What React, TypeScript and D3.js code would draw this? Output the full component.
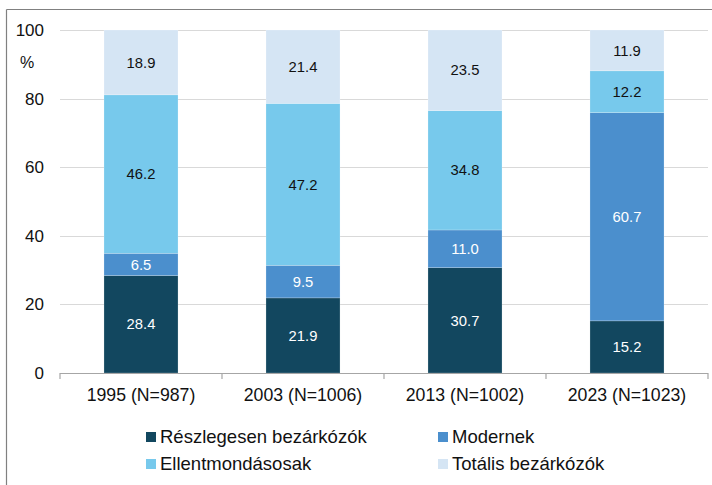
import React from "react";
import * as d3 from "d3";

const categories = ["1995 (N=987)", "2003 (N=1006)", "2013 (N=1002)", "2023 (N=1023)"];
const seriesNames = ["Részlegesen bezárkózók", "Modernek", "Ellentmondásosak", "Totális bezárkózók"];
const reszlegesen = [28.4, 21.9, 30.7, 15.2];
const modernek = [6.5, 9.5, 11.0, 60.7];
const ellentmondasosak = [46.2, 47.2, 34.8, 12.2];
const totalis = [18.9, 21.4, 23.5, 11.9];
const yTicks = [0, 20, 40, 60, 80, 100];

const seriesValues = [reszlegesen, modernek, ellentmondasosak, totalis];
const colors = ["#12475f", "#4b8fcd", "#77c9ec", "#d5e5f4"];
const labelColors = ["#ffffff", "#ffffff", "#111111", "#111111"];

const W = 712;
const H = 485;
const FONT = "'Liberation Sans', Arial, sans-serif";

export default function App() {
  const x = d3.scaleBand<string>().domain(categories).range([60, 708]).paddingInner(0.543).paddingOuter(0.2715);
  const y = d3.scaleLinear().domain([0, 100]).range([373, 30]);

  const table = categories.map((c, i) => {
    const row: any = { cat: c };
    seriesNames.forEach((s, j) => (row[s] = seriesValues[j][i]));
    return row;
  });
  const stacked = d3.stack<any>().keys(seriesNames)(table);

  const step = (708 - 60) / categories.length;
  const boundaries = d3.range(categories.length + 1).map((i) => 60 + i * step);

  const legendPos = [
    { x: 146, y: 437 },
    { x: 438, y: 437 },
    { x: 146, y: 464 },
    { x: 438, y: 464 },
  ];

  return (
    <svg width={W} height={H} style={{ position: "absolute", left: 0, top: 0 }} fontFamily={FONT}>
      <rect x={0} y={0} width={W} height={H} fill="#ffffff" />
      <line x1={6.5} y1={9.5} x2={W} y2={9.5} stroke="#808080" strokeWidth={1.2} />
      <line x1={6.5} y1={9.5} x2={6.5} y2={H} stroke="#808080" strokeWidth={1.2} />
      {yTicks.filter((t) => t > 0).map((t) => (
        <line key={t} x1={60} x2={708} y1={Math.round(y(t)) + 0.5} y2={Math.round(y(t)) + 0.5} stroke="#d9d9d9" strokeWidth={1} />
      ))}
      {yTicks.map((t) => (
        <text key={t} x={44} y={y(t)} dy="0.35em" textAnchor="end" fontSize={17} fill="#111">
          {t}
        </text>
      ))}
      <text x={27} y={62} dy="0.35em" textAnchor="middle" fontSize={16} fill="#111">%</text>
      {stacked.map((layer, j) =>
        layer.map((d, i) => (
          <rect
            key={`${j}-${i}`}
            x={x(categories[i])}
            width={x.bandwidth()}
            y={y(d[1])}
            height={y(d[0]) - y(d[1])}
            fill={colors[j]}
            stroke="#ffffff"
            strokeOpacity={0.35}
            strokeWidth={0.6}
          />
        ))
      )}
      {stacked.map((layer, j) =>
        layer.map((d, i) => (
          <text
            key={`t${j}-${i}`}
            x={(x(categories[i]) as number) + x.bandwidth() / 2}
            y={(y(d[0]) + y(d[1])) / 2}
            dy="0.35em"
            textAnchor="middle"
            fontSize={14.8}
            fill={labelColors[j]}
          >
            {seriesValues[j][i].toFixed(1)}
          </text>
        ))
      )}
      <line x1={60} x2={708} y1={373.5} y2={373.5} stroke="#a6a6a6" strokeWidth={1.2} />
      {boundaries.map((b) => (
        <line key={b} x1={b} x2={b} y1={373} y2={379} stroke="#a6a6a6" strokeWidth={1.2} />
      ))}
      {categories.map((c) => (
        <text key={c} x={(x(c) as number) + x.bandwidth() / 2} y={395} dy="0.35em" textAnchor="middle" fontSize={17.7} fill="#111">
          {c}
        </text>
      ))}
      {seriesNames.map((s, j) => (
        <g key={s}>
          <rect x={legendPos[j].x} y={legendPos[j].y - 5} width={10} height={10} fill={colors[j]} />
          <text x={legendPos[j].x + 14} y={legendPos[j].y} dy="0.35em" fontSize={18.5} fill="#111">
            {s}
          </text>
        </g>
      ))}
    </svg>
  );
}
